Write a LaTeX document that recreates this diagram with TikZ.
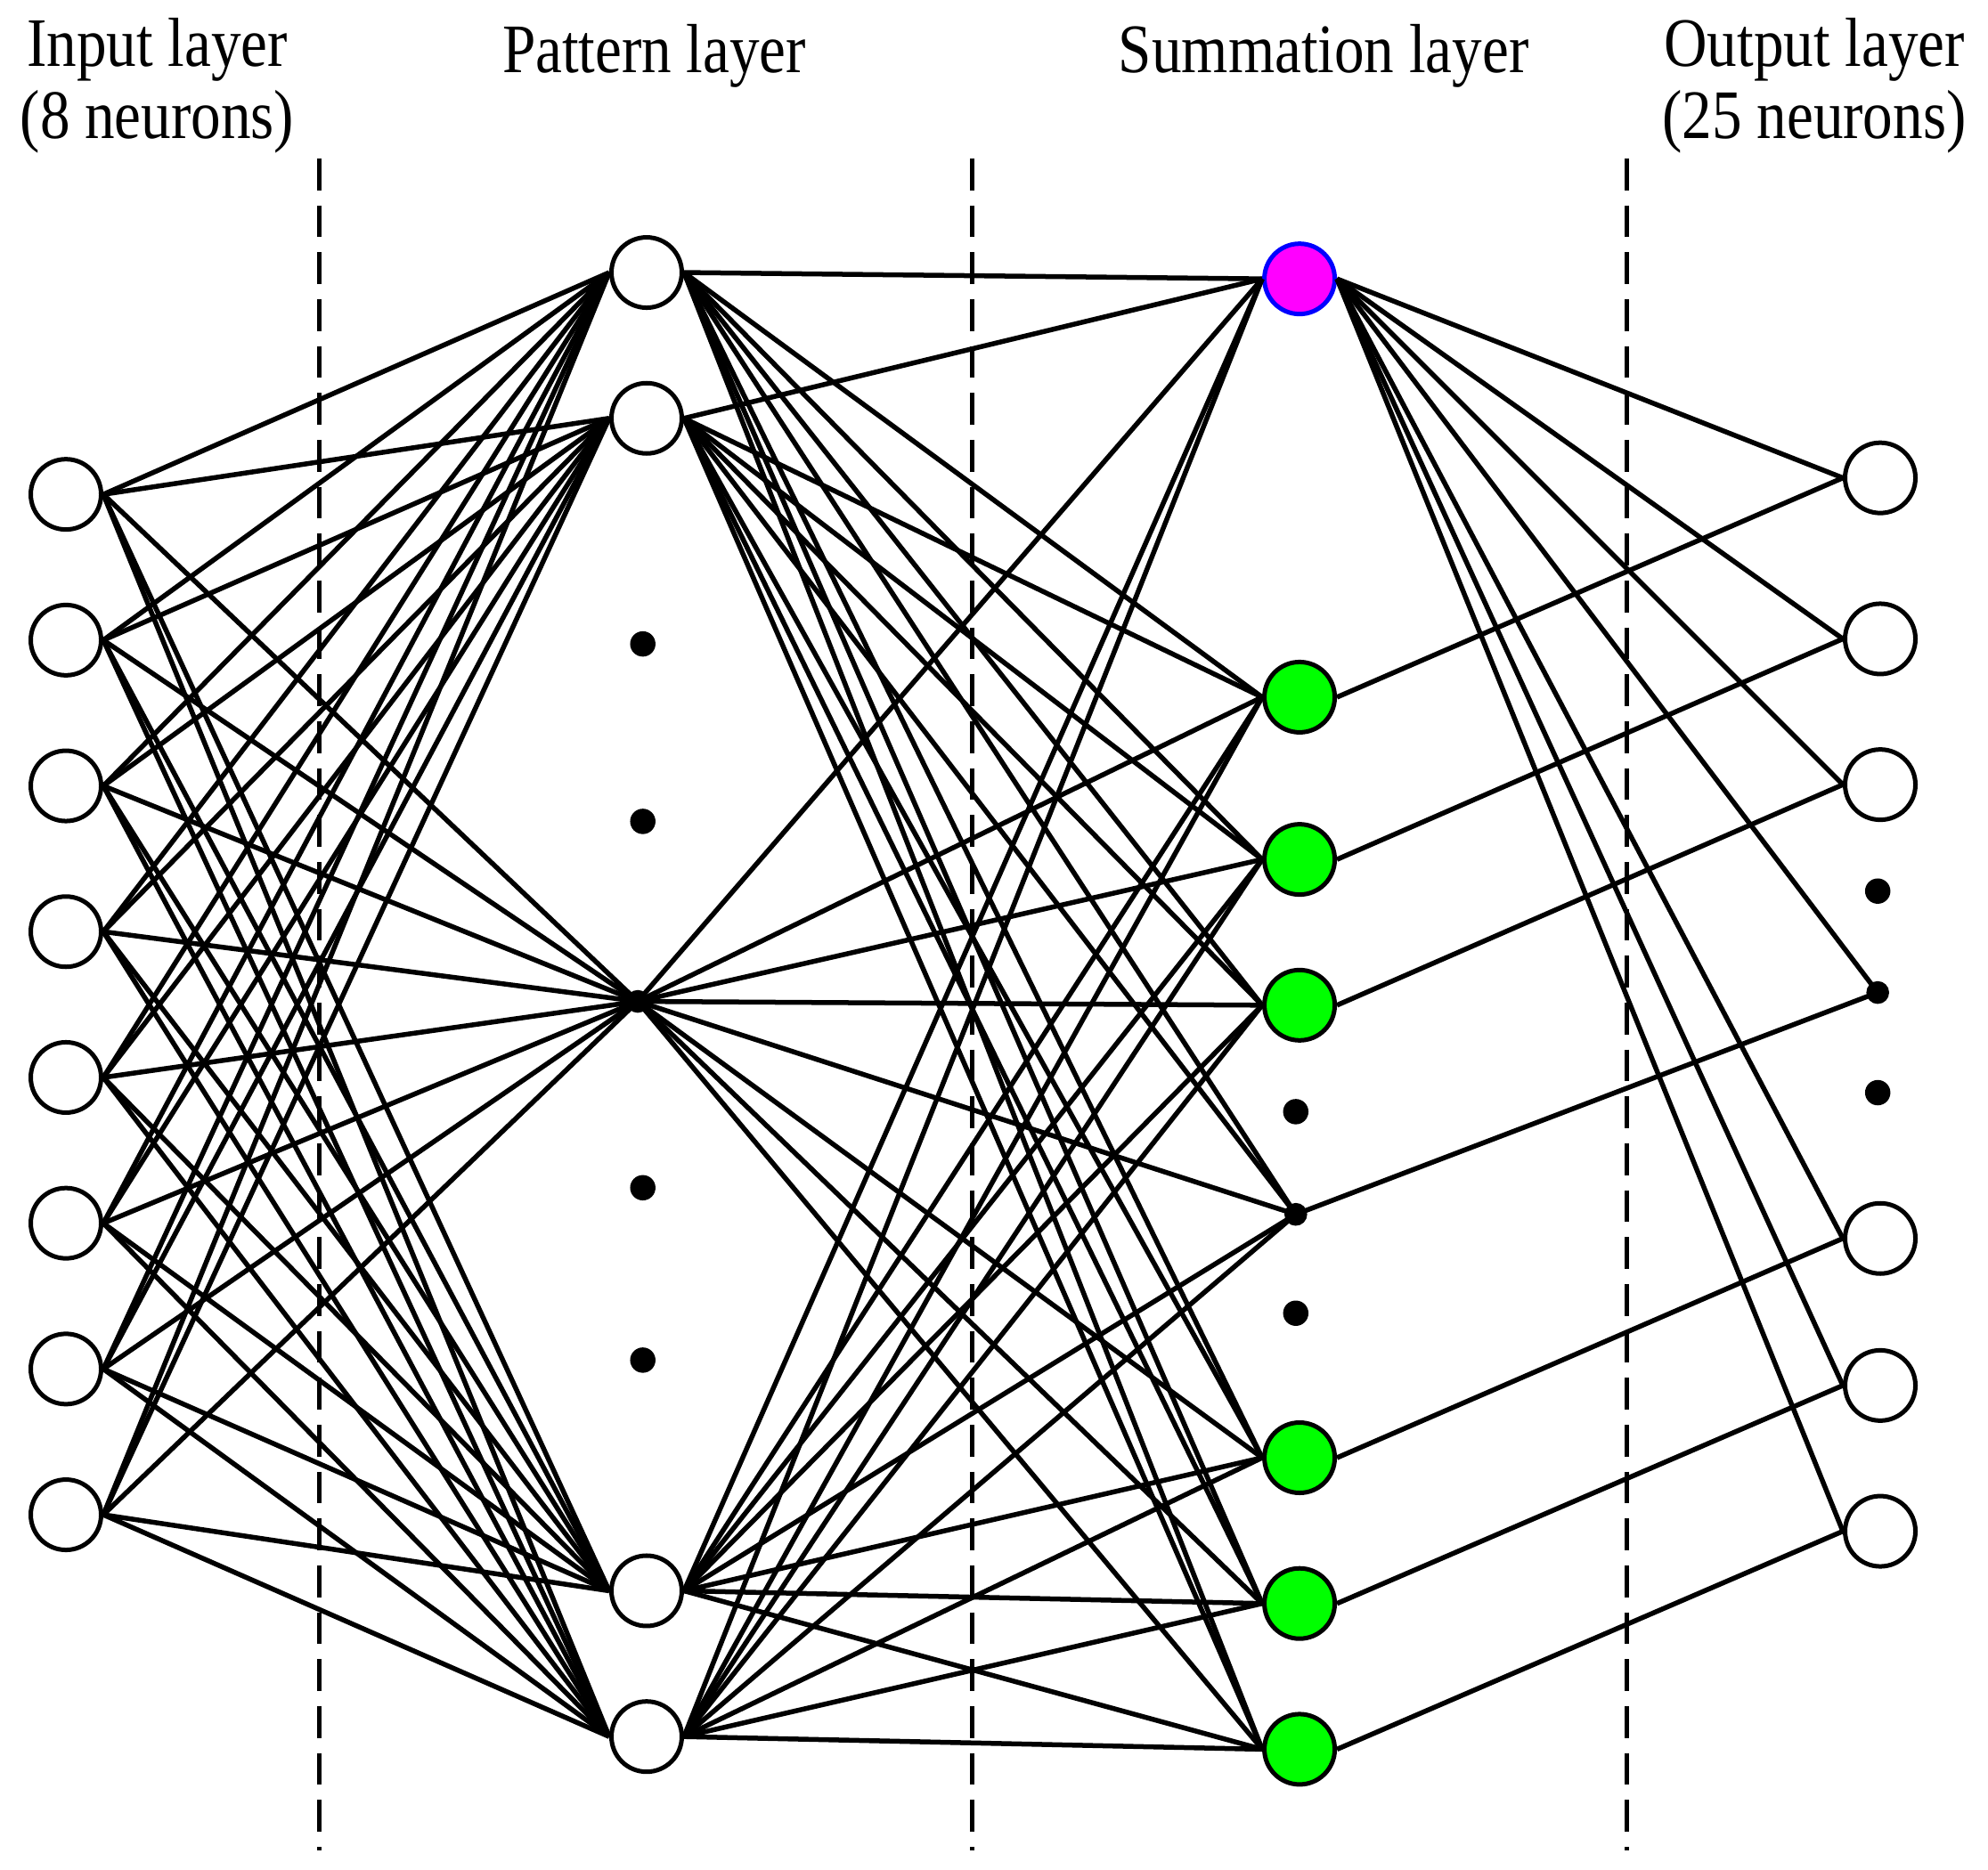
\documentclass[tikz,border=0pt]{standalone}
\usepackage{fontspec}
\setmainfont{Liberation Serif}
\usetikzlibrary{positioning}
\definecolor{neurongreen}{RGB}{0,255,0}
\definecolor{neuronmagenta}{RGB}{255,0,255}
\definecolor{neuronblue}{RGB}{0,0,255}
\tikzset{
    neuron/.style={circle,draw=black,line width=1pt,fill=white,minimum size=5.55mm,inner sep=0pt},
    green neuron/.style={neuron,fill=neurongreen},
    magenta neuron/.style={neuron,fill=neuronmagenta,draw=neuronblue},
    point/.style={circle,fill=black,inner sep=0pt,minimum size=2mm},
    junction/.style={point,minimum size=1.8mm},
    conn/.style={line width=1.1pt},
    layer border/.style={line width=1pt,dash pattern=on 2.5mm off 1.2mm},
    layer title/.style={font=\fontsize{15.6}{19}\selectfont,xscale=.86,anchor=base},
}

\begin{document}
\begin{tikzpicture}
        \useasboundingbox (0,0) rectangle (15.68,-14.75);

        % titles
        \node[layer title] (TI) at (1.24,-.52) {Input layer};
        \node[layer title] (TIn) at (1.24,-1.09) {(8 neurons)};
        \node[layer title] (TP) at (5.16,-.57) {Pattern layer};
        \node[layer title] (TS) at (10.44,-.57) {Summation layer};
        \node[layer title] (TO) at (14.31,-.52) {Output layer};
        \node[layer title] (TOn) at (14.31,-1.09) {(25 neurons)};

        \foreach \x in {2.52,7.67,12.83}
            \draw[layer border] (\x,-1.25) -- (\x,-14.60);

        % input layer
        \foreach \i in {1,...,8}
            \node[neuron] (I\i) at (.52,{-3.90-1.15*(\i-1)}) {};

        % pattern layer
        \node[neuron] (P1) at (5.10,-2.15) {};
        \node[neuron] (P2) at (5.10,-3.30) {};
        \node[point] (PD1) at (5.07,-5.08) {};
        \node[point] (PD2) at (5.07,-6.48) {};
        \node[junction] (PC) at (5.03,-7.90) {};
        \node[point] (PD3) at (5.07,-9.37) {};
        \node[point] (PD4) at (5.07,-10.73) {};
        \node[neuron] (P3) at (5.10,-12.55) {};
        \node[neuron] (P4) at (5.10,-13.70) {};

        % summation layer
        \node[magenta neuron] (S0) at (10.25,-2.20) {};
        \node[green neuron] (S1) at (10.25,-5.50) {};
        \node[green neuron] (S2) at (10.25,-6.78) {};
        \node[green neuron] (S3) at (10.25,-7.93) {};
        \node[point] (SD1) at (10.22,-8.77) {};
        \node[junction] (SJ) at (10.22,-9.58) {};
        \node[point] (SD2) at (10.22,-10.36) {};
        \node[green neuron] (S4) at (10.25,-11.50) {};
        \node[green neuron] (S5) at (10.25,-12.65) {};
        \node[green neuron] (S6) at (10.25,-13.80) {};

        % output layer
        \node[neuron] (O1) at (14.83,-3.77) {};
        \node[neuron] (O2) at (14.83,-5.04) {};
        \node[neuron] (O3) at (14.83,-6.19) {};
        \node[point] (OD1) at (14.81,-7.03) {};
        \node[junction] (OJ) at (14.81,-7.83) {};
        \node[point] (OD2) at (14.81,-8.62) {};
        \node[neuron] (O4) at (14.83,-9.77) {};
        \node[neuron] (O5) at (14.83,-10.93) {};
        \node[neuron] (O6) at (14.83,-12.08) {};

        % input -> pattern
        \foreach \i in {1,...,8} {
            \foreach \p in {P1,P2,P3,P4}
                \draw[conn] (I\i.east) -- (\p.west);
            \draw[conn] (I\i.east) -- (PC.center);
        }

        % pattern -> summation
        \foreach \p/\a in {P1/east,P2/east,PC/center,P3/east,P4/east} {
            \foreach \s in {S0,S1,S2,S3,S4,S5,S6}
                \draw[conn] (\p.\a) -- (\s.west);
            \draw[conn] (\p.\a) -- (SJ.center);
        }

        % summation -> output
        \foreach \o in {O1,O2,O3,O4,O5,O6}
            \draw[conn] (S0.east) -- (\o.west);
        \draw[conn] (S0.east) -- (OJ.center);
        \foreach \s/\o in {S1/O1,S2/O2,S3/O3,S4/O4,S5/O5,S6/O6}
            \draw[conn] (\s.east) -- (\o.west);
        \draw[conn] (SJ.center) -- (OJ.center);
    \end{tikzpicture}
\end{document}
